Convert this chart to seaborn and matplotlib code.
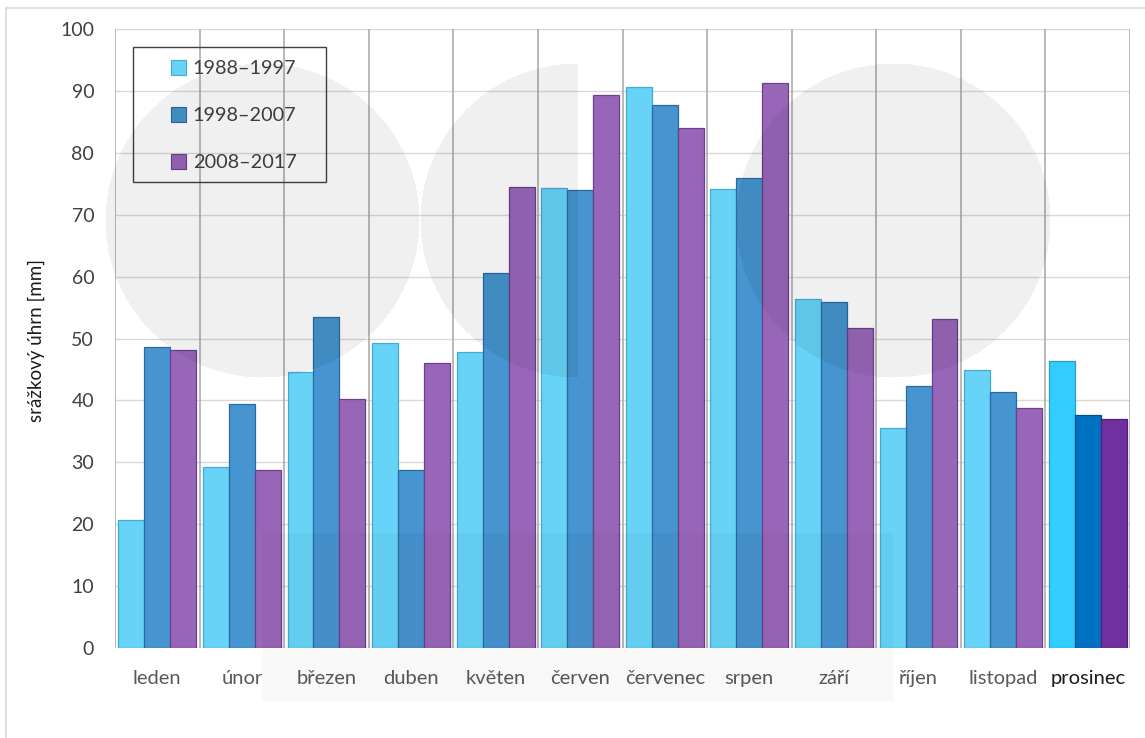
import numpy as np
import pandas as pd
import matplotlib
matplotlib.use("Agg")
import matplotlib.pyplot as plt
from matplotlib.patches import Rectangle
import seaborn as sns

# Monthly precipitation totals (mm), decade averages
months = ["leden", "únor", "březen", "duben", "květen", "červen",
          "červenec", "srpen", "září", "říjen", "listopad", "prosinec"]
periods = ["1988–1997", "1998–2007", "2008–2017"]
p1988 = [20.6, 29.2, 44.6, 49.3, 47.8, 74.3, 90.7, 74.2, 56.4, 35.6, 44.9, 46.4]
p1998 = [48.6, 39.4, 53.4, 28.7, 60.6, 74.0, 87.7, 76.0, 55.9, 42.4, 41.4, 37.7]
p2008 = [48.1, 28.7, 40.2, 46.0, 74.5, 89.4, 84.0, 91.2, 51.7, 53.2, 38.7, 37.0]
yticks = list(range(0, 101, 10))

df = pd.DataFrame({
    "month": months * 3,
    "period": [periods[0]] * 12 + [periods[1]] * 12 + [periods[2]] * 12,
    "value": p1988 + p1998 + p2008,
})

fill = ["#66d3f7", "#4694d0", "#9866b8"]
edge = ["#45aad6", "#2a6aa3", "#6a3f8c"]
fill_dec = ["#33ccff", "#0070c0", "#7030a0"]
edge_dec = ["#2a9fcf", "#00508c", "#4f1f78"]

sns.set_theme(style="white")
plt.rcParams["font.family"] = ["Lato", "DejaVu Sans"]

W, H = 1145, 738
fig = plt.figure(figsize=(W / 100, H / 100), dpi=100)
AX_L, AX_B, AX_W, AX_H = 115, 648, 1015, 619
ax = fig.add_axes([AX_L / W, 1 - AX_B / H, AX_W / W, AX_H / H])


def ax_frac(px, py):
    """Convert figure pixel position to axes fraction."""
    return (px - AX_L) / AX_W, (AX_B - py) / AX_H


sns.barplot(data=df, x="month", y="value", hue="period", palette=fill,
            width=0.92, gap=0, saturation=1, ax=ax, zorder=3,
            edgecolor="none")

for i, cont in enumerate(ax.containers):
    for j, bar in enumerate(cont.patches):
        if j == len(months) - 1:
            bar.set_facecolor(fill_dec[i])
            bar.set_edgecolor(edge_dec[i])
        else:
            bar.set_edgecolor(edge[i])
        bar.set_linewidth(0.9)

ax.set_xlim(-0.5, len(months) - 0.5)
ax.set_ylim(0, 100)
ax.set_yticks(yticks)
ax.set_xlabel("")
ax.set_ylabel("srážkový úhrn [mm]", fontsize=13.5, color="#1a1a1a")
ax.yaxis.set_label_coords(*ax_frac(45, 340))

# light horizontal grid and darker separators between months
ax.grid(axis="y", color="#d9d9d9", linewidth=1.0, zorder=0)
ax.set_axisbelow(True)
for k in range(len(months) + 1):
    ax.axvline(k - 0.5, color="#a6a6a6", linewidth=1.1, zorder=1)
for s in ax.spines.values():
    s.set_visible(False)

ax.tick_params(axis="both", length=0)
ax.tick_params(axis="y", pad=15, labelsize=14, labelcolor="#404040")
ax.tick_params(axis="x", pad=16, labelsize=14.5, labelcolor="#595959")
for lab in ax.get_xticklabels():
    if lab.get_text() == "prosinec":
        lab.set_color("#1a1a1a")

handles, labels = ax.get_legend_handles_labels()
for h, c, e in zip(handles, fill, edge):
    h.set_facecolor(c)
    h.set_edgecolor(e)
    h.set_linewidth(0.8)
leg = ax.legend(handles, labels, loc="upper left",
                bbox_to_anchor=ax_frac(171, 60),
                borderaxespad=0, borderpad=0, frameon=False, fontsize=14.3,
                labelspacing=1.5, handlelength=0.75, handleheight=0.75,
                handletextpad=0.35)
for t in leg.get_texts():
    t.set_color("#404040")
# legend box outline
x0, y0 = ax_frac(133, 182)
x1, y1 = ax_frac(326, 47)
ax.add_patch(Rectangle((x0, y0), x1 - x0, y1 - y0, transform=ax.transAxes,
                       facecolor="none", edgecolor="#404040",
                       linewidth=1.0, zorder=6, clip_on=False))

# pale background emblem laid over the plot
yy, xx = np.mgrid[0:H, 0:W]
r = 157
upper = ((xx - 262) ** 2 + (yy - 220) ** 2 <= r ** 2)
upper |= ((xx - 577) ** 2 + (yy - 220) ** 2 <= r ** 2) & (xx <= 577)
upper |= ((xx - 893) ** 2 + (yy - 220) ** 2 <= r ** 2)
lower = (xx >= 262) & (xx <= 893) & (yy >= 533) & (yy <= 700)
rgba = np.zeros((H, W, 4))
rgba[..., 3] = upper * 0.062 + lower * 0.03
im = fig.figimage(rgba, xo=0, yo=0, origin="upper")
im.set_zorder(5)

# thin outer frame (top and left edges)
fig.add_artist(plt.Line2D([6 / W, 1], [1 - 8 / H, 1 - 8 / H],
                          color="#d9d9d9", linewidth=1.2))
fig.add_artist(plt.Line2D([6 / W, 6 / W], [0, 1 - 8 / H],
                          color="#d9d9d9", linewidth=1.2))

fig.savefig("out.png", dpi=100, facecolor="white")
